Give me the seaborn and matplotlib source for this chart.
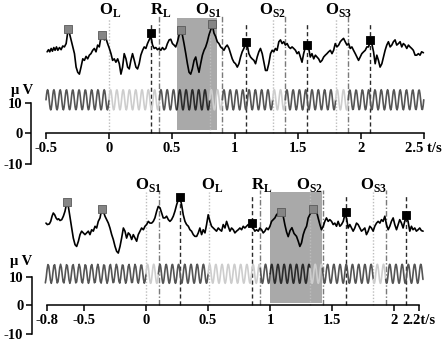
import numpy as np
import matplotlib
matplotlib.use("Agg")
import matplotlib.pyplot as plt
import seaborn as sns

sns.set_theme(style="ticks")
plt.rcParams['font.family'] = ['Liberation Serif', 'DejaVu Serif']
plt.rcParams['font.weight'] = 'bold'
plt.rcParams['mathtext.fontset'] = 'custom'
plt.rcParams['mathtext.bf'] = 'Liberation Serif:bold'
plt.rcParams['mathtext.rm'] = 'Liberation Serif:bold'

# ---------------- top panel data ----------------
top_t = [-0.491, -0.480, -0.470, -0.459, -0.449, -0.438, -0.428, -0.417, -0.406,
         -0.393, -0.380, -0.367, -0.354, -0.340, -0.327, -0.314, -0.301, -0.288, -0.274,
         -0.261, -0.248, -0.235, -0.222, -0.208, -0.195, -0.182, -0.169, -0.156, -0.143,
         -0.129, -0.116, -0.103, -0.090, -0.077, -0.063, -0.050, -0.037, -0.024, -0.011,
         0.003, 0.016, 0.029, 0.042, 0.055, 0.069, 0.082, 0.095, 0.108, 0.121,
         0.135, 0.148, 0.161, 0.174, 0.187, 0.201, 0.214, 0.227, 0.240, 0.253,
         0.267, 0.280, 0.293, 0.306, 0.319, 0.333, 0.346, 0.359, 0.372, 0.385,
         0.398, 0.412, 0.425, 0.438,
         0.451, 0.464, 0.478, 0.491, 0.504, 0.517, 0.530, 0.544, 0.557, 0.570,
         0.583, 0.596, 0.610, 0.623, 0.636, 0.649, 0.662, 0.676, 0.689, 0.702,
         0.715, 0.728, 0.742, 0.755, 0.768, 0.781, 0.794, 0.808, 0.821, 0.834,
         0.847, 0.860, 0.873, 0.887, 0.900, 0.913, 0.926, 0.939, 0.953, 0.966,
         0.979, 0.992, 1.005, 1.019, 1.032, 1.045, 1.058, 1.071, 1.085, 1.098,
         1.111, 1.124, 1.137, 1.151, 1.164, 1.177, 1.190, 1.203, 1.217, 1.230,
         1.243, 1.256, 1.269, 1.283, 1.296, 1.309, 1.322, 1.335, 1.349, 1.362,
         1.375, 1.388, 1.401, 1.415, 1.428,
         1.441, 1.454, 1.467, 1.481, 1.494, 1.507, 1.520, 1.533, 1.546, 1.560,
         1.573, 1.586, 1.599, 1.612, 1.626, 1.639, 1.652, 1.665, 1.678, 1.692,
         1.705, 1.718, 1.731, 1.744, 1.758, 1.771, 1.784, 1.797, 1.810, 1.824,
         1.837, 1.850, 1.863, 1.876, 1.890, 1.903, 1.916, 1.929, 1.942, 1.956,
         1.969, 1.982, 1.995, 2.008, 2.022, 2.035, 2.048, 2.061, 2.074, 2.087,
         2.101, 2.114, 2.127, 2.140, 2.153, 2.167, 2.180, 2.193, 2.206, 2.219,
         2.233, 2.246, 2.259, 2.272, 2.285, 2.299, 2.312, 2.325, 2.338, 2.351,
         2.365, 2.378, 2.391, 2.404, 2.417, 2.431, 2.444, 2.457, 2.470, 2.483,
         2.497]
top_uv = [26.7, 27.4, 26.7, 27.8, 26.9, 28.1, 27.2, 28.3, 27.2,
          28.1, 27.4, 28.6, 28.3, 29.4, 33.3, 32.8, 30.6, 28.3, 26.1,
          21.7, 20.0, 19.4, 21.7, 24.4, 23.9, 25.2, 24.4, 25.6, 26.1,
          27.2, 27.8, 26.7, 28.9, 28.3, 31.7, 31.9, 30.6, 31.1, 29.4,
          27.8, 26.1, 23.9, 24.4, 23.3, 24.4, 22.8, 19.4, 21.7, 26.1,
          24.4, 21.7, 21.1, 23.9, 26.1, 23.9, 21.7, 21.1, 22.8, 25.6,
          27.2, 28.3, 27.8, 29.4, 30.6, 31.7, 28.9, 27.8, 28.1, 27.4,
          27.8, 27.2, 28.1, 27.4,
          27.8, 29.4, 30.6, 30.8, 29.4, 28.9, 28.3, 30.0, 32.2, 33.7,
          32.2, 29.4, 26.1, 22.8, 20.0, 19.4, 21.1, 23.9, 25.0, 22.2,
          20.0, 22.8, 25.6, 27.2, 28.3, 30.0, 32.2, 33.9, 35.5, 32.8,
          31.7, 30.0, 29.4, 28.3, 27.8, 27.2, 28.3, 28.9, 27.8, 26.1,
          24.4, 23.3, 22.8, 21.7, 22.8, 25.0, 26.7, 27.8, 29.4, 28.9,
          26.1, 25.0, 24.4, 23.9, 22.8, 25.0, 26.7, 27.8, 26.1, 23.3,
          20.6, 20.6, 22.8, 26.1, 27.2, 26.7, 27.8, 27.2, 30.0, 30.6,
          29.4, 30.0, 28.9, 29.4, 28.3,
          27.8, 28.3, 27.8, 27.2, 26.1, 26.7, 25.0, 23.3, 26.1, 28.3,
          29.4, 27.8, 25.0, 26.1, 24.4, 25.6, 25.0, 24.4, 23.3, 23.9,
          25.0, 25.6, 26.1, 26.7, 27.2, 26.1, 27.2, 29.4, 28.3, 28.9,
          30.0, 30.6, 31.1, 30.0, 28.9, 29.4, 27.8, 28.3, 27.2, 26.1,
          25.0, 23.9, 25.0, 26.1, 26.7, 27.2, 28.3, 28.3, 30.0, 29.4,
          26.7, 22.8, 25.6, 23.9, 21.7, 22.8, 25.0, 27.2, 28.9, 30.0,
          28.3, 28.9, 30.0, 30.6, 28.9, 29.4, 30.0, 28.3, 29.4, 28.9,
          27.8, 28.9, 28.3, 27.8, 27.2, 25.6, 25.6, 26.1, 25.6, 26.7,
          26.4]
top_gray_t = [-0.327, -0.055, 0.570, 0.818]
top_gray_uv = [34.0, 32.3, 33.9, 35.8]
top_black_t = [0.333, 1.085, 1.573, 2.074]
top_black_uv = [32.8, 29.8, 29.0, 30.6]
top_onset_t = [0.0, 0.80, 1.30, 1.80]
top_dashdot_t = [0.40, 0.90, 1.40, 1.90]
top_shade = (0.54, 0.855)
top_sine_edges = [-0.5, 0.0, 0.4, 0.54, 0.8, 0.9, 1.3, 1.4, 1.8, 1.9, 2.5]
top_sine_tone = ['dark', 'light', 'dark', 'black', 'light', 'dark', 'light', 'dark', 'light', 'dark']
top_labels = [('O', 'L', 0.01), ('R', 'L', 0.41), ('O', 'S1', 0.79), ('O', 'S2', 1.30), ('O', 'S3', 1.82)]
top_ticks = [-0.5, 0, 0.5, 1, 1.5, 2, 2.5]
top_ticklabels = ['-0.5', '0', '0.5', '1', '1.5', '2', '2.5 t/s']

# ---------------- bottom panel data ----------------
bot_t = [-0.805, -0.794, -0.778, -0.767, -0.756, -0.746, -0.735, -0.724, -0.713, -0.703, -0.692,
         -0.678, -0.665, -0.652, -0.638, -0.625, -0.611, -0.598, -0.585, -0.571, -0.558,
         -0.544, -0.531, -0.518, -0.504, -0.491, -0.477, -0.464, -0.451, -0.437, -0.424,
         -0.410, -0.397, -0.384, -0.370, -0.357, -0.343, -0.330, -0.316, -0.303, -0.290,
         -0.276, -0.263, -0.249, -0.236, -0.223, -0.209, -0.196, -0.182, -0.169, -0.156,
         -0.142, -0.129, -0.115, -0.102, -0.088, -0.075, -0.062, -0.048, -0.035, -0.021,
         -0.008, 0.005, 0.019, 0.032, 0.046, 0.059, 0.072, 0.086, 0.099, 0.113,
         0.126, 0.139,
         0.153, 0.166, 0.180, 0.193, 0.206, 0.220, 0.233, 0.247, 0.260, 0.274,
         0.287, 0.300, 0.314, 0.327, 0.341, 0.354, 0.367, 0.381, 0.394, 0.408,
         0.421, 0.434, 0.448, 0.461, 0.475, 0.488, 0.501, 0.515, 0.528, 0.542,
         0.555, 0.568, 0.582, 0.595, 0.609, 0.622, 0.636, 0.649, 0.662, 0.676,
         0.689, 0.703, 0.716, 0.729, 0.743, 0.756, 0.770, 0.783, 0.796, 0.810,
         0.823, 0.837, 0.850, 0.863, 0.877, 0.890, 0.904, 0.917, 0.931, 0.944,
         0.957, 0.971, 0.984, 0.998, 1.011, 1.024, 1.038, 1.051, 1.065, 1.078,
         1.091, 1.105, 1.118, 1.132, 1.145, 1.160, 1.175, 1.192, 1.212,
         1.226, 1.239, 1.252, 1.266, 1.279, 1.293, 1.306, 1.319, 1.333, 1.346,
         1.360, 1.373, 1.386, 1.400, 1.413, 1.427, 1.440, 1.453, 1.467, 1.480,
         1.494, 1.507, 1.520, 1.534, 1.547, 1.561, 1.574, 1.588, 1.601, 1.614,
         1.628, 1.641, 1.655, 1.668, 1.681, 1.695, 1.708, 1.722, 1.735, 1.748,
         1.762, 1.775, 1.789, 1.802, 1.815, 1.829, 1.842, 1.856, 1.869, 1.883,
         1.896, 1.909, 1.923, 1.936, 1.950, 1.963, 1.976, 1.990, 2.003, 2.017,
         2.030, 2.043, 2.057, 2.070, 2.083, 2.097, 2.110, 2.124, 2.137, 2.150,
         2.164, 2.177, 2.191, 2.204, 2.217, 2.231]
bot_uv = [28.6, 28.1, 28.3, 29.2, 31.0, 32.1, 31.5, 30.4, 29.8, 30.1, 29.5,
          29.8, 31.0, 32.7, 35.6, 34.4, 30.4, 26.9, 23.4, 21.1, 20.5,
          22.3, 24.6, 25.8, 25.2, 24.6, 25.2, 25.8, 24.6, 26.3, 25.8,
          27.5, 26.9, 29.2, 30.4, 33.3, 32.7, 31.0, 29.8, 28.6, 26.9,
          24.6, 22.9, 20.5, 18.8, 18.2, 20.5, 23.4, 26.9, 25.8, 23.4,
          25.2, 24.6, 22.9, 24.6, 23.4, 22.3, 24.6, 25.8, 26.9, 26.3,
          27.5, 28.1, 29.2, 28.6, 28.6, 29.2, 30.4, 32.7, 34.4, 33.9,
          32.1, 30.4,
          30.4, 31.0, 29.8, 29.2, 29.8, 31.0, 32.7, 35.0, 36.7, 37.3,
          35.0, 31.5, 29.2, 28.1, 27.5, 26.3, 25.8, 24.6, 24.0, 24.0,
          25.2, 26.9, 24.6, 26.3, 25.2, 28.1, 31.5, 29.2, 27.5, 26.9,
          26.3, 25.8, 26.9, 26.3, 25.8, 28.1, 26.9, 29.2, 27.5, 25.8,
          26.9, 26.3, 25.2, 25.8, 26.3, 26.9, 26.3, 27.5, 26.9, 27.5,
          28.1, 27.5, 28.1, 26.9, 25.8, 26.3, 25.8, 26.9, 26.3, 25.2,
          25.8, 26.9, 26.3, 27.5, 29.2, 29.8, 30.4, 31.5, 32.1, 32.5,
          32.1, 31.0, 28.1, 25.5, 23.9, 26.0, 27.0, 25.0, 24.0,
          22.3, 20.5, 21.7, 24.6, 26.3, 27.5, 30.4, 31.5, 32.7, 33.3,
          32.1, 32.7, 30.4, 28.1, 26.3, 27.5, 29.2, 30.4, 29.2, 29.8,
          29.2, 28.1, 28.6, 27.5, 29.2, 27.5, 28.1, 29.2, 31.5, 30.4,
          26.9, 28.1, 26.9, 25.8, 26.9, 28.6, 28.1, 26.9, 25.8, 26.3,
          26.9, 24.6, 25.8, 27.5, 26.9, 25.8, 27.5, 28.6, 29.2, 28.6,
          29.8, 29.2, 31.0, 28.1, 26.3, 27.5, 29.2, 30.4, 28.1, 26.3,
          28.1, 29.8, 28.6, 26.9, 29.2, 31.0, 29.2, 25.8, 27.5, 26.3,
          26.9, 25.8, 26.3, 26.9, 26.0, 25.8]
bot_gray_t = [-0.633, -0.351, 1.088, 1.346]
bot_gray_uv = [35.9, 33.6, 32.5, 33.6]
bot_black_t = [0.274, 0.850, 1.609, 2.097]
bot_black_uv = [37.5, 28.6, 32.5, 31.5]
bot_onset_t = [0.0, 0.504, 1.324, 1.831]
bot_dashdot_t = [0.107, 0.920, 1.425, 1.934]
bot_shade = (0.995, 1.416)
bot_sine_edges = [-0.81, 0.0, 0.1, 0.5, 0.92, 1.0, 1.32, 1.42, 1.83, 1.93, 2.23]
bot_sine_tone = ['dark', 'light', 'dark', 'light', 'dark', 'black', 'light', 'dark', 'light', 'dark']
bot_labels = [('O', 'S1', 0.02), ('O', 'L', 0.53), ('R', 'L', 0.93), ('O', 'S2', 1.32), ('O', 'S3', 1.83)]
bot_ticks = [-0.8, -0.5, 0, 0.5, 1, 1.5, 2, 2.2]
bot_ticklabels = ['-0.8', '-0.5', '0', '0.5', '1', '1.5', '2', '2.2t/s']

# reference oscillation
sine_freq = 20.0
sine_mid = 11.0
sine_amp = 3.3

tone_color = {'dark': '#555555', 'light': '#cdcdcd', 'black': '#2b2b2b'}


def draw_panel(ax, t, uv, gray_t, gray_uv, black_t, black_uv, onsets, dashdots,
               shade, edges, tones, labels, ticks, ticklabels, line_top, label_y,
               muv_xy):
    # shaded window
    ax.fill_between(list(shade), 1.0, line_top, color='#a9a9a9', lw=0, zorder=0)

    # reference sine, split into coloured pieces
    for i, tone in enumerate(tones):
        seg = np.linspace(edges[i], edges[i + 1], 120)
        sns.lineplot(x=seg, y=sine_mid + sine_amp * np.sin(2 * np.pi * sine_freq * seg),
                     ax=ax, color=tone_color[tone], lw=1.2, sort=False, zorder=2)

    # marker lines
    ax.vlines(onsets, 0, line_top, colors='#bdbdbd', lw=1.0, linestyles=(0, (1, 1.3)), zorder=1)
    ax.vlines(dashdots, 0, line_top + 0.5, colors='#7a7a7a', lw=1.0,
              linestyles=(0, (4, 1.5, 1, 1.5)), zorder=1)
    ax.vlines(black_t, 0, line_top - 1.3, colors='#2a2a2a', lw=1.0, linestyles=(0, (3, 2)), zorder=1)

    # EEG trace
    sns.lineplot(x=t, y=uv, ax=ax, color='black', lw=1.2, sort=False, zorder=3)

    sns.scatterplot(x=gray_t, y=gray_uv, ax=ax, marker='s', s=34, color='#858585',
                    edgecolor='#5a5a5a', linewidth=0.6, zorder=5)
    sns.scatterplot(x=black_t, y=black_uv, ax=ax, marker='s', s=34, color='black',
                    edgecolor='black', linewidth=0.6, zorder=5)

    for big, sub, x in labels:
        ax.text(x, label_y, r'$\mathbf{%s}_{\mathbf{%s}}$' % (big, sub), ha='center',
                va='center', fontsize=12, color='black', clip_on=False)

    ax.text(muv_xy[0], muv_xy[1], 'μ V', ha='center', va='center', fontsize=10.5,
            fontweight='bold', color='black', clip_on=False)

    sns.despine(ax=ax)
    ax.spines['bottom'].set_position(('data', 0))
    ax.spines['left'].set_bounds(-10, 10)
    ax.spines['bottom'].set_bounds(ticks[0], ticks[-1])
    for s in ('left', 'bottom'):
        ax.spines[s].set_color('black')
        ax.spines[s].set_linewidth(1.1)
    ax.set_xticks(ticks)
    ax.set_xticklabels(ticklabels)
    ax.set_yticks([-10, 0, 10])
    ax.set_yticklabels(['-10', '0', '10'])
    ax.tick_params(direction='out', length=4, width=1.1, color='black', pad=2,
                   labelsize=10.5, labelcolor='black')
    for lab in ax.get_xticklabels() + ax.get_yticklabels():
        lab.set_fontweight('bold')
    ax.set_xlabel('')
    ax.set_ylabel('')
    ax.set_facecolor('white')


fig = plt.figure(figsize=(4.47, 3.43), dpi=100)

ax1 = fig.add_axes([0.0694, 0.5219, 0.915, 0.4723])
ax1.set_xlim(-0.619, 2.629)
ax1.set_ylim(-10, 43)
draw_panel(ax1, top_t, top_uv, top_gray_t, top_gray_uv, top_black_t, top_black_uv,
           top_onset_t, top_dashdot_t, top_shade, top_sine_edges, top_sine_tone,
           top_labels, top_ticks, top_ticklabels, 37.8, 40.3, (-0.693, 14.2))

ax2 = fig.add_axes([0.0709, 0.0254, 0.9134, 0.4644])
ax2.set_xlim(-0.920, 2.367)
ax2.set_ylim(-10, 45.3)
draw_panel(ax2, bot_t, bot_uv, bot_gray_t, bot_gray_uv, bot_black_t, bot_black_uv,
           bot_onset_t, bot_dashdot_t, bot_shade, bot_sine_edges, bot_sine_tone,
           bot_labels, bot_ticks, bot_ticklabels, 39.5, 41.8, (-1.008, 15.3))

fig.savefig('out.png', dpi=100, facecolor='white')
